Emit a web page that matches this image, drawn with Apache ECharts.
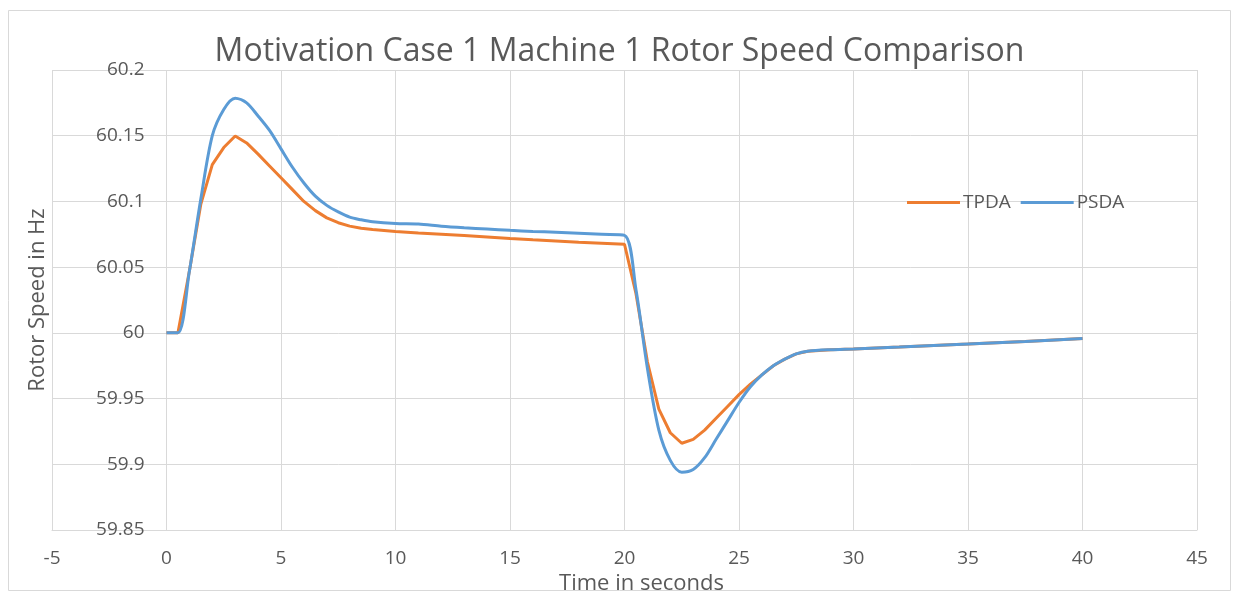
<!DOCTYPE html>
<html>
<head>
<meta charset="utf-8">
<script src="https://cdn.jsdelivr.net/npm/echarts@6/dist/echarts.min.js"></script>
<style>
  html, body { margin: 0; padding: 0; background: #ffffff; }
  #chart { width: 1239px; height: 596px; }
</style>
</head>
<body>
<div id="chart"></div>
<script>
// Simulation time (s)
const timeSeconds = [0, 0.5, 1, 1.5, 2, 2.5, 3, 3.5, 4, 4.5, 5, 5.5, 6, 6.5, 7, 7.5, 8, 8.5, 9,
  10, 11, 12, 13, 14, 15, 16, 17, 18, 19, 20, 20.5, 21, 21.5, 22, 22.5, 23, 23.5, 24, 24.5,
  25, 25.5, 26, 26.5, 27, 27.5, 28, 29, 30, 32, 35, 37.5, 40];

// Machine 1 rotor speed (Hz)
const tpdaHz = [60, 60, 60.047, 60.098, 60.128, 60.141, 60.1498, 60.1445, 60.136, 60.127, 60.118,
  60.109, 60.100, 60.093, 60.0875, 60.0838, 60.0812, 60.0796, 60.0786,
  60.0772, 60.0760, 60.0750, 60.0740, 60.0730, 60.0718, 60.0708, 60.0699, 60.0690, 60.0682, 60.0674,
  60.030, 59.978, 59.942, 59.924, 59.916, 59.919, 59.926, 59.935, 59.944,
  59.953, 59.961, 59.968, 59.975, 59.980, 59.984, 59.986, 59.9872, 59.9878, 59.9892, 59.9915, 59.9935, 59.9957];

const psdaHz = [60, 60, 60.047, 60.102, 60.150, 60.170, 60.1785, 60.175, 60.165, 60.154, 60.140,
  60.126, 60.114, 60.104, 60.097, 60.092, 60.088, 60.0860, 60.0845,
  60.0832, 60.0828, 60.0812, 60.0800, 60.0790, 60.0780, 60.0772, 60.0765, 60.0758, 60.0750, 60.0742,
  60.033, 59.973, 59.926, 59.903, 59.894, 59.896, 59.905, 59.919, 59.933,
  59.947, 59.959, 59.968, 59.975, 59.980, 59.984, 59.986, 59.9872, 59.9878, 59.9892, 59.9915, 59.9935, 59.9957];

const seriesNames = ['TPDA', 'PSDA'];
const seriesColors = ['#ED7D31', '#5B9BD5'];

const X_MIN = -5;
const FONT = 'Open Sans';
const TEXT = '#595959';
const GRIDLINE = '#d9d9d9';

const pairs = (xs, ys) => xs.map((x, i) => [x, ys[i]]);

const chart = echarts.init(document.getElementById('chart'), null, { renderer: 'canvas' });

chart.setOption({
  animation: false,
  backgroundColor: '#ffffff',
  textStyle: { fontFamily: FONT, color: TEXT },
  graphic: [{
    type: 'rect',
    shape: { x: 8.5, y: 10.5, width: 1222, height: 580 },
    style: { fill: 'none', stroke: GRIDLINE, lineWidth: 1 },
    silent: true
  }],
  title: {
    text: 'Motivation Case 1 Machine 1 Rotor Speed Comparison',
    left: 'center',
    top: 31,
    textStyle: { fontFamily: FONT, fontSize: 32, fontWeight: 'normal', color: TEXT, padding: [0, 0, 0, 10] }
  },
  legend: {
    data: seriesNames,
    left: 902,
    top: 188,
    icon: 'rect',
    itemWidth: 53,
    itemHeight: 3,
    itemGap: 10,
    textStyle: { fontFamily: FONT, fontSize: 19, color: TEXT, padding: [0, 0, 0, -2] }
  },
  grid: { left: 52, right: 42, top: 70, bottom: 66, containLabel: false, outerBoundsMode: 'none' },
  xAxis: {
    type: 'value',
    min: X_MIN,
    max: 45,
    interval: 5,
    name: 'Time in seconds',
    nameLocation: 'middle',
    nameGap: 36,
    nameTextStyle: { fontFamily: FONT, fontSize: 22, color: TEXT, padding: [0, 0, 0, 34] },
    axisLine: { show: true, onZero: false, lineStyle: { color: GRIDLINE, width: 1 } },
    axisTick: { show: false },
    axisLabel: { fontFamily: FONT, fontSize: 19, color: TEXT, margin: 19 },
    splitLine: { show: true, lineStyle: { color: GRIDLINE, width: 1 } }
  },
  yAxis: {
    type: 'value',
    min: 59.85,
    max: 60.2,
    interval: 0.05,
    name: 'Rotor Speed in Hz',
    nameLocation: 'middle',
    nameGap: 118,
    nameTextStyle: { fontFamily: FONT, fontSize: 22, color: TEXT },
    axisLine: { show: false, onZero: false },
    axisTick: { show: false },
    axisLabel: {
      fontFamily: FONT, fontSize: 19, color: TEXT, margin: 22,
      formatter: v => String(parseFloat(v.toFixed(2)))
    },
    splitLine: { show: true, lineStyle: { color: GRIDLINE, width: 1 } }
  },
  series: [
    {
      name: seriesNames[0],
      type: 'line',
      data: pairs(timeSeconds, tpdaHz),
      showSymbol: false,
      symbol: 'none',
      smooth: false,
      lineStyle: { color: seriesColors[0], width: 3 },
      itemStyle: { color: seriesColors[0] }
    },
    {
      name: seriesNames[1],
      type: 'line',
      data: pairs(timeSeconds, psdaHz),
      showSymbol: false,
      symbol: 'none',
      smooth: 0.3,
      lineStyle: { color: seriesColors[1], width: 3 },
      itemStyle: { color: seriesColors[1] }
    }
  ]
});

// Move the value axis (labels and title) so it crosses the time axis at t = 0.
const zeroPx = chart.convertToPixel({ xAxisIndex: 0 }, 0);
const leftPx = chart.convertToPixel({ xAxisIndex: 0 }, X_MIN);
chart.setOption({ yAxis: { offset: -(zeroPx - leftPx) } });
</script>
</body>
</html>
